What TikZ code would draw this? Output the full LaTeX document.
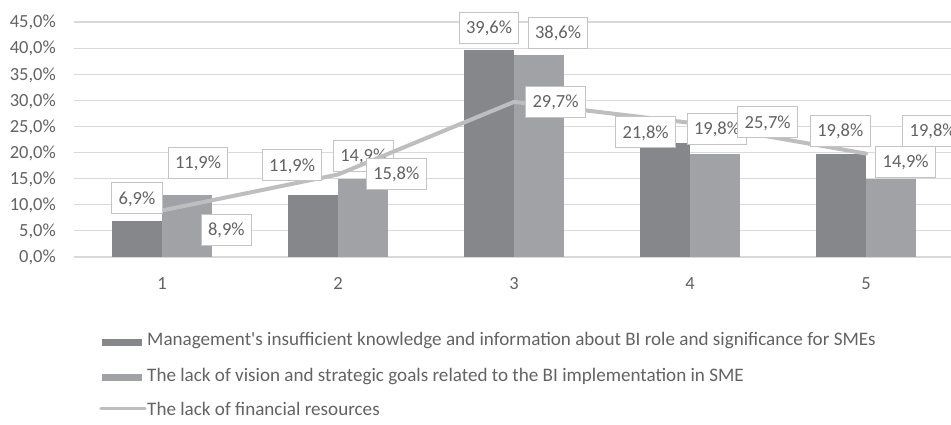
\documentclass[tikz,border=0pt]{standalone}
\usepackage{fontspec}
\newfontfamily\chartfont{Carlito}
\definecolor{darkbar}{HTML}{86878B}
\definecolor{lightbar}{HTML}{A1A2A6}
\definecolor{finline}{HTML}{BEBEC0}
\definecolor{gridc}{HTML}{D9D9D9}
\definecolor{txtc}{HTML}{636363}
\definecolor{boxc}{HTML}{C4C4C4}
\tikzset{
  gridline/.style={draw=gridc,line width=1.1pt},
  darkfill/.style={fill=darkbar},
  lightfill/.style={fill=lightbar},
  finstroke/.style={draw=finline,line width=4pt,line cap=round,line join=round},
  txt/.style={font=\chartfont\fontsize{18.5}{22}\selectfont,text=txtc,inner sep=0pt},
  legtxt/.style={font=\chartfont\fontsize{19.1}{23}\selectfont,text=txtc,inner sep=0pt,anchor=base west},
  lbl/.style={txt,draw=boxc,line width=1pt,fill=white,inner xsep=7pt,inner ysep=0pt,
              minimum height=31pt,text height=11.7pt,text depth=0pt},
}
\begin{document}
\begin{tikzpicture}[x=1pt,y=-1pt]
\useasboundingbox (0,0) rectangle (951,425);
\fill[white] (0,0) rectangle (951,425);
% grid and y labels
\foreach \k in {0,...,9}{
  \pgfmathtruncatemacro\v{\k*5}
  \draw[gridline] (74,{257-\k*26.111}) -- (951,{257-\k*26.111});
  \node[txt,anchor=base east] (ylab\k) at (56,{257-\k*26.111+5.85}) {\v,0\%};
}
% bars
\foreach \c/\a/\b [count=\i] in {162/6.9/11.9,338/11.9/14.9,514/39.6/38.6,690/21.8/19.8,866/19.8/14.9}{
  \fill[darkfill] (\c-50,257) rectangle (\c,{257-\a*5.2222});
  \fill[lightfill] (\c,257) rectangle (\c+50,{257-\b*5.2222});
  \node[txt,anchor=base] (cat\i) at (\c,289) {\i};
}
% label under the line
\node[lbl] (l5) at (363.3,156) {14,9\%};
% financial line
\coordinate (p1) at (162,{257-8.9*5.2222});
\coordinate (p2) at (338,{257-15.8*5.2222});
\coordinate (p3) at (514,{257-29.7*5.2222});
\coordinate (p4) at (690,{257-25.7*5.2222});
\coordinate (p5) at (866,{257-19.8*5.2222});
\draw[finstroke] (p1) -- (p2) -- (p3) -- (p4) -- (p5);
% data labels
\node[lbl] (l1) at (137,198.2) {6,9\%};
\node[lbl] (l2) at (198,162.8) {11,9\%};
\node[lbl] (l3) at (226.3,229.5) {8,9\%};
\node[lbl] (l4) at (292,165.3) {11,9\%};
\node[lbl] (l6) at (396.3,173.8) {15,8\%};
\node[lbl] (l7) at (489,27.7) {39,6\%};
\node[lbl] (l8) at (558,33) {38,6\%};
\node[lbl] (l9) at (555.5,101.7) {29,7\%};
\node[lbl] (l10) at (645.7,132.3) {21,8\%};
\node[lbl] (l11) at (717,128.8) {19,8\%};
\node[lbl] (l12) at (767.7,122.3) {25,7\%};
\node[lbl] (l13) at (840.3,131) {19,8\%};
\node[lbl] (l14) at (905.7,162) {14,9\%};
\node[lbl] (l15) at (932.7,131) {19,8\%};
% legend
\fill[darkfill] (102,338.5) rectangle (142,345.5);
\node[legtxt] (leg1) at (147,345.7) {Management's insufficient knowledge and information about BI role and significance for SMEs};
\fill[lightfill] (102,374) rectangle (142,381);
\node[legtxt] (leg2) at (147,381) {The lack of vision and strategic goals related to the BI implementation in SME};
\coordinate (lg3a) at (101,408.5);
\coordinate (lg3b) at (145,408.5);
\draw[finstroke,line width=3.5pt] (lg3a) -- (lg3b);
\node[legtxt] (leg3) at (147,415) {The lack of financial resources};
\end{tikzpicture}
\end{document}
